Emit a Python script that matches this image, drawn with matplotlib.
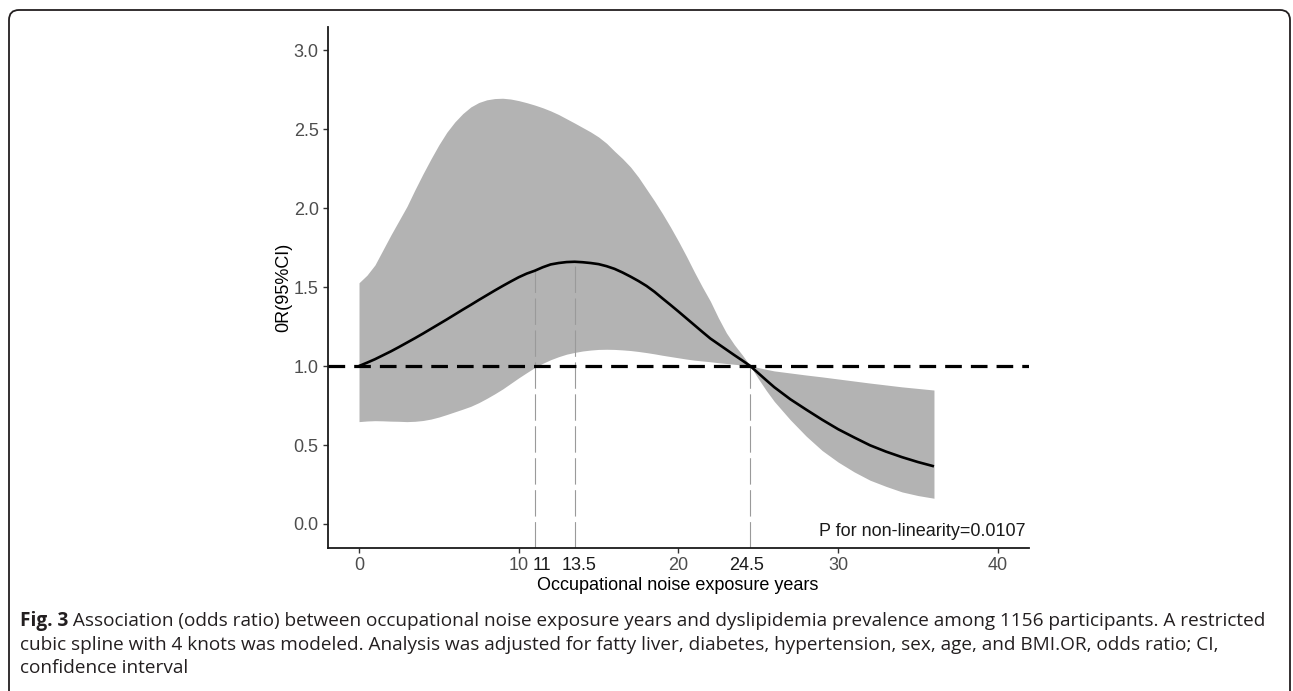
import matplotlib
matplotlib.use("Agg")
import matplotlib.pyplot as plt
from matplotlib.patches import FancyBboxPatch

# ---- data ----
years = [0, 0.5, 1, 1.5, 2, 2.5, 3, 3.5, 4, 4.5, 5, 5.5, 6, 6.5, 7, 7.5, 8, 8.5, 9, 9.5,
         10, 10.5, 11, 11.5, 12, 12.5, 13, 13.5, 14, 14.5, 15, 15.5, 16, 16.5, 17, 17.5,
         18, 18.5, 19, 19.5, 20, 20.5, 21, 21.5, 22, 22.5, 23, 23.5, 24, 24.5, 25, 25.5,
         26, 27, 28, 29, 30, 31, 32, 33, 34, 35, 36]
odds_ratio = [1.000, 1.021, 1.043, 1.068, 1.093, 1.120, 1.148, 1.176, 1.205, 1.235,
              1.265, 1.295, 1.326, 1.357, 1.387, 1.418, 1.448, 1.478, 1.507, 1.535,
              1.562, 1.585, 1.603, 1.625, 1.643, 1.652, 1.658, 1.660, 1.657, 1.652,
              1.645, 1.632, 1.615, 1.592, 1.566, 1.538, 1.507, 1.470, 1.428, 1.387,
              1.345, 1.302, 1.259, 1.216, 1.174, 1.139, 1.104, 1.069, 1.035, 1.000,
              0.955, 0.910, 0.866, 0.790, 0.724, 0.660, 0.600, 0.548, 0.498, 0.458,
              0.423, 0.392, 0.365]
ci_upper = [1.527, 1.575, 1.640, 1.735, 1.830, 1.920, 2.010, 2.115, 2.215, 2.310,
            2.400, 2.480, 2.545, 2.598, 2.640, 2.668, 2.685, 2.693, 2.695, 2.690,
            2.680, 2.667, 2.652, 2.635, 2.615, 2.592, 2.565, 2.538, 2.510, 2.482,
            2.450, 2.410, 2.360, 2.313, 2.260, 2.195, 2.120, 2.045, 1.965, 1.880,
            1.790, 1.695, 1.595, 1.500, 1.410, 1.305, 1.210, 1.135, 1.070, 1.000,
            0.990, 0.979, 0.969, 0.956, 0.943, 0.931, 0.918, 0.905, 0.892, 0.880,
            0.868, 0.858, 0.848]
ci_lower = [0.648, 0.652, 0.654, 0.653, 0.651, 0.650, 0.648, 0.650, 0.655, 0.664,
            0.677, 0.693, 0.710, 0.727, 0.745, 0.768, 0.795, 0.824, 0.855, 0.890,
            0.925, 0.958, 0.990, 1.017, 1.040, 1.059, 1.075, 1.086, 1.095, 1.101,
            1.105, 1.106, 1.105, 1.102, 1.098, 1.092, 1.085, 1.077, 1.068, 1.060,
            1.052, 1.044, 1.037, 1.032, 1.027, 1.021, 1.016, 1.011, 1.006, 1.000,
            0.920, 0.845, 0.776, 0.660, 0.556, 0.465, 0.392, 0.330, 0.277, 0.238,
            0.203, 0.180, 0.163]
ref_line = 1.0
knot_marks = [11, 13.5, 24.5]
knot_labels = ["11", "13.5", "24.5"]
x_ticks = [0, 10, 20, 30, 40]
y_ticks = [0.0, 0.5, 1.0, 1.5, 2.0, 2.5, 3.0]
p_text = "P for non-linearity=0.0107"
x_title = "Occupational noise exposure years"
y_title = "0R(95%CI)"
cap_bold = "Fig. 3"
cap_line1 = " Association (odds ratio) between occupational noise exposure years and dyslipidemia prevalence among 1156 participants. A restricted"
cap_line2 = "cubic spline with 4 knots was modeled. Analysis was adjusted for fatty liver, diabetes, hypertension, sex, age, and BMI.OR, odds ratio; CI,"
cap_line3 = "confidence interval"

plt.rcParams['lines.scale_dashes'] = False
W, H = 1293, 691
fig = plt.figure(figsize=(W / 100, H / 100), dpi=100)
ax = fig.add_axes([327.7 / W, 1 - 548 / H, (1029 - 327.7) / W, (548 - 27) / H])

ax.fill_between(years, ci_lower, ci_upper, color="#b3b3b3", lw=0, zorder=1)
ax.axhline(ref_line, color="black", lw=2.3, dashes=(12, 6.5), zorder=3)
ax.plot(years, odds_ratio, color="black", lw=1.9, zorder=4,
        solid_capstyle="butt", solid_joinstyle="round")

ylo, yhi = -0.152, 3.146
for k in knot_marks:
    yv = odds_ratio[years.index(k)]
    ax.plot([k, k], [ylo, yv], color="#9a9a9a", lw=0.8, dashes=(19, 4), zorder=2)

ax.set_xlim(-1.96, 41.95)
ax.set_ylim(ylo, yhi)
ax.set_xticks(x_ticks)
ax.set_xticklabels([str(t) for t in x_ticks])
ax.set_yticks(y_ticks)
ax.set_yticklabels([f"{t:.1f}" for t in y_ticks])

for s in ["top", "right"]:
    ax.spines[s].set_visible(False)
for s in ["left", "bottom"]:
    ax.spines[s].set_linewidth(1.3)
    ax.spines[s].set_color("#1a1a1a")
ax.tick_params(axis="both", length=3.5, width=1.0, color="#333333",
               labelsize=13, labelcolor="#4d4d4d", pad=3,
               labelfontfamily="Liberation Sans")

label_shift_pts = [5, 3, -2.5]
for k, lab, dx in zip(knot_marks, knot_labels, label_shift_pts):
    ax.annotate(lab, xy=(k, 0), xycoords=ax.get_xaxis_transform(),
                xytext=(dx, -12.5), textcoords="offset points",
                ha="center", va="center", fontsize=13, color="#1a1a1a",
                family="Liberation Sans")

ax.text(0.995, 0.032, p_text, transform=ax.transAxes, ha="right", va="center",
        fontsize=13, color="#1a1a1a", family="Liberation Sans")

fig.text(678 / W, 1 - 585 / H, x_title, ha="center", va="center",
         fontsize=13, color="black", family="Liberation Sans")
fig.text(284 / W, 1 - 287 / H, y_title, ha="center", va="center", rotation=90,
         fontsize=13, color="black", family="Liberation Sans")

# caption
cap_color = "#231f20"
cap_fs = 13.65
t1 = fig.text(20 / W, 1 - 621 / H, cap_bold, ha="left", va="center",
              fontsize=cap_fs, fontweight="bold", color=cap_color, family="Open Sans")
fig.canvas.draw()
bb = t1.get_window_extent()
fig.text(bb.x1 / W, 1 - 621 / H, cap_line1, ha="left", va="center",
         fontsize=cap_fs, color=cap_color, family="Open Sans")
fig.text(20 / W, 1 - 645 / H, cap_line2, ha="left", va="center",
         fontsize=cap_fs, color=cap_color, family="Open Sans")
fig.text(20 / W, 1 - 668 / H, cap_line3, ha="left", va="center",
         fontsize=cap_fs, color=cap_color, family="Open Sans")

# rounded frame around the figure (bottom edge runs off the canvas)
frame = FancyBboxPatch((9, -40), 1281, H - 10 + 40,
                       boxstyle="round,pad=0,rounding_size=10",
                       transform=None, fill=False, lw=1.3, edgecolor="#231f20")
fig.patches.append(frame)

fig.savefig("out.png", dpi=100)
